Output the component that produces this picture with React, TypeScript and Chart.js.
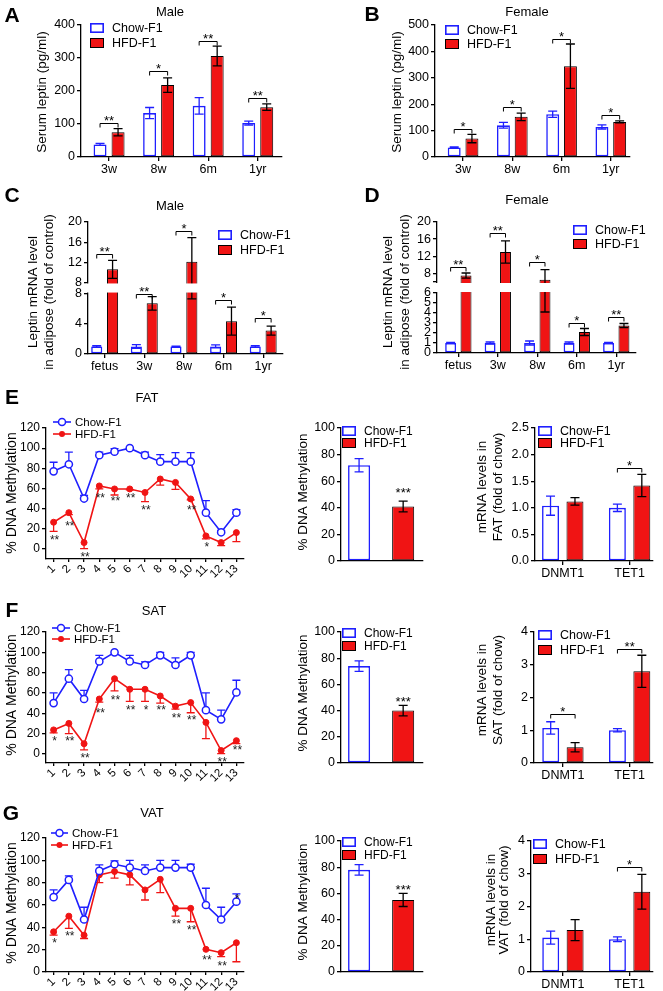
import React, { useEffect, useRef } from 'react';
import { Chart, registerables } from 'chart.js';
Chart.register(...registerables);

// ---------------- DATA ----------------
const seriesNames = ['Chow-F1', 'HFD-F1'];

// A – serum leptin, male
const aCats = ['3w', '8w', '6m', '1yr'];
const aChow = [38, 133, 155, 103];
const aChowErr = [3, 17, 25, 6];
const aHfd = [75, 218, 306, 151];
const aHfdErr = [11, 22, 30, 10];
const aSig = ['**', '*', '**', '**'];
const aSigAt = [103, 261, 352, 179];
const aTicks = [0, 100, 200, 300, 400];

// B – serum leptin, female
const bCats = ['3w', '8w', '6m', '1yr'];
const bChow = [36, 120, 162, 114];
const bChowErr = [2, 11, 12, 8];
const bHfd = [70, 152, 344, 133];
const bHfdErr = [16, 14, 84, 4];
const bSig = ['*', '*', '*', '*'];
const bSigAt = [106, 189, 447, 159];
const bTicks = [0, 100, 200, 300, 400, 500];

// C – leptin mRNA, male (broken axis)
const cCats = ['fetus', '3w', '8w', '6m', '1yr'];
const cChow = [1, 1, 1, 1, 1];
const cChowErr = [0.1, 0.25, 0.05, 0.2, 0.1];
const cHfd = [10.6, 6.7, 12.1, 4.35, 3.1];
const cHfdErr = [1.8, 0.9, 4.8, 1.85, 0.6];
const cSig = ['**', '**', '*', '*', '*'];
const cSigAt = [13.6, 8, 18.2, 7.1, 4.7];
const cLowTicks = [0, 4, 8];
const cHighTicks = [8, 12, 16, 20];

// D – leptin mRNA, female (broken axis)
const dCats = ['fetus', '3w', '8w', '6m', '1yr'];
const dChow = [1, 1, 1, 1, 1];
const dChowErr = [0.05, 0.1, 0.2, 0.1, 0.05];
const dHfd = [7.5, 13, 6.5, 2.1, 2.75];
const dHfdErr = [0.6, 2.6, 2.4, 0.35, 0.2];
const dSig = ['**', '**', '*', '*', '**'];
const dSigAt = [9.5, 17.4, 10.7, 3.0, 3.6];
const dLowTicks = [0, 1, 2, 3, 4, 5, 6];
const dHighTicks = [8, 12, 16, 20];

// E/F/G – CpG site methylation
const sites = ['1', '2', '3', '4', '5', '6', '7', '8', '9', '10', '11', '12', '13'];
const methTicks = [0, 20, 40, 60, 80, 100, 120];

const eChow = [77, 84, 50, 93, 96.5, 100, 93, 86.6, 86.6, 86.6, 36, 16.5, 36];
const eChowErr = [9, 12, 3, 3, 3, 0, 3, 7, 9, 9, 12, 2, 3];
const eHfd = [26.5, 36, 6.3, 62.5, 59.5, 59.5, 56, 69.4, 66, 49.6, 12.9, 6.3, 16.2];
const eHfdErr = [9, 2, 6, 3, 6, 1, 9, 6, 7, 1, 3, 3, 9];
const eStars = ['**', '**', '**', '**', '**', '**', '**', '', '', '**', '*', '', ''];
const eStarAt = [12, 26, -5, 53, 50, 53, 42, 0, 0, 42, 5, 0, 0];

const fChow = [50, 74, 54, 91, 100, 91, 87.5, 97, 87.5, 97, 43, 34, 60.5];
const fChowErr = [10, 9, 8.5, 6, 0, 6, 3, 3, 7, 3, 17, 9, 12];
const fHfd = [23.6, 30, 10, 54, 74, 63.6, 63.6, 57, 47, 50.5, 31, 3.3, 13];
const fHfdErr = [3, 10, 6, 3, 12, 12, 12, 7, 3, 10, 16, 3, 3];
const fStars = ['*', '**', '**', '**', '**', '**', '*', '**', '**', '**', '', '**', '**'];
const fStarAt = [16, 16, -1, 43, 56, 46, 46, 46, 38, 36, 0, -5, 7];

const gChow = [67, 82.5, 47, 90.5, 96.5, 93.5, 90.5, 93.5, 93.5, 93.5, 60, 47, 63];
const gChowErr = [6.5, 3.5, 11, 5.5, 3, 6.5, 5.5, 6.5, 6.5, 3, 15, 11, 7];
const gHfd = [36, 50, 33, 87, 90, 87, 73.5, 83, 57, 57, 20.3, 17.3, 26.2];
const gHfdErr = [3, 11, 3, 7, 6, 9, 9, 12, 7, 12, 0, 3.5, 17];
const gStars = ['*', '**', '', '', '', '', '', '', '**', '**', '**', '**', '*'];
const gStarAt = [29, 35, 0, 0, 0, 0, 0, 0, 46, 40, 13, 8, 68];

// overall % methylation
const pctTicks = [0, 20, 40, 60, 80, 100];
const eMethChow = [72];
const eMethChowErr = [5];
const eMethHfd = [41];
const eMethHfdErr = [4];
const eMethSigAt = 54;
const fMethChow = [74];
const fMethChowErr = [4];
const fMethHfd = [40];
const fMethHfdErr = [4];
const fMethSigAt = 49;
const gMethChow = [78];
const gMethChowErr = [4];
const gMethHfd = [55];
const gMethHfdErr = [5];
const gMethSigAt = 65;
const methSig = '***';

// DNMT1 / TET1 mRNA
const geneCats = ['DNMT1', 'TET1'];
const eGeneTicks = [0, 0.5, 1, 1.5, 2, 2.5];
const eGeneChow = [1.04, 1.0];
const eGeneChowErr = [0.18, 0.07];
const eGeneHfd = [1.12, 1.42];
const eGeneHfdErr = [0.07, 0.21];
const eGeneSig = ['', '*'];
const eGeneSigAt = [0, 1.75];
const fgGeneTicks = [0, 1, 2, 3, 4];
const fGeneChow = [1.07, 1.0];
const fGeneChowErr = [0.19, 0.05];
const fGeneHfd = [0.48, 2.8];
const fGeneHfdErr = [0.14, 0.49];
const fGeneSig = ['*', '**'];
const fGeneSigAt = [1.5, 3.48];
const gGeneChow = [1.05, 1.0];
const gGeneChowErr = [0.2, 0.07];
const gGeneHfd = [1.28, 2.45];
const gGeneHfdErr = [0.32, 0.53];
const gGeneSig = ['', '*'];
const gGeneSigAt = [0, 3.2];

// ---------------- STYLE ----------------
const W = 663;
const H = 991;
const CH = 1030; // canvas height (taller than page so bottom labels are never clipped)
const YW = 40; // y-axis box width
const FONT = '"Liberation Sans", Arial, Helvetica, sans-serif';
const BLUE = '#1f1fff';
const RED = '#f01414';
const BLACK = '#000000';
const AXW = 1.3;

type Tick = { v: number; label: string };
const tk = (vals: number[], fmt?: (v: number) => string): Tick[] =>
  vals.map((v) => ({ v, label: fmt ? fmt(v) : String(v) }));

const SEG = 60;
const GAP = 11;
function brokenMap(lowMax: number, upMin: number, upMax: number) {
  return (v: number) =>
    v <= lowMax ? (v / lowMax) * SEG : SEG + GAP + ((v - upMin) / (upMax - upMin)) * SEG;
}
function brokenTicks(low: number[], high: number[], lowMax: number, upMin: number, upMax: number): Tick[] {
  const m = brokenMap(lowMax, upMin, upMax);
  const out: Tick[] = low.map((v) => ({ v: m(v), label: String(v) }));
  if (!high.includes(upMin)) out.push({ v: SEG + GAP, label: '' });
  high.forEach((v) => out.push({ v: v === upMin ? SEG + GAP : m(v), label: String(v) }));
  return out;
}

function txt(
  ctx: CanvasRenderingContext2D,
  s: string,
  x: number,
  y: number,
  size: number,
  o: { align?: CanvasTextAlign; baseline?: CanvasTextBaseline; rot?: number; color?: string; bold?: boolean } = {}
) {
  ctx.save();
  ctx.translate(x, y);
  if (o.rot) ctx.rotate(o.rot);
  ctx.font = `${o.bold ? 'bold ' : ''}${size}px ${FONT}`;
  ctx.fillStyle = o.color || BLACK;
  ctx.textAlign = o.align || 'center';
  ctx.textBaseline = o.baseline || 'middle';
  ctx.fillText(s, 0, 0);
  ctx.restore();
}

function yAxis(min: number, max: number, ticks: Tick[], fs: number) {
  return {
    type: 'linear',
    position: 'left',
    min,
    max,
    afterFit: (s: any) => {
      s.width = YW;
    },
    afterBuildTicks: (s: any) => {
      s.ticks = ticks.map((t) => ({ value: t.v }));
    },
    ticks: {
      autoSkip: false,
      callback: (_v: any, i: number) => (ticks[i] ? ticks[i].label : ''),
      font: { family: FONT, size: fs },
      color: BLACK,
      padding: 2,
    },
    grid: { display: true, drawOnChartArea: false, drawTicks: true, tickLength: 4, color: BLACK, lineWidth: AXW },
    border: { display: true, color: BLACK, width: AXW },
  };
}

type Series = { vals: number[]; errs: number[]; fill: string; stroke: string; bw: number; err: string };
const chowS = (vals: number[], errs: number[]): Series => ({ vals, errs, fill: '#ffffff', stroke: BLUE, bw: 1.6, err: BLUE });
const hfdS = (vals: number[], errs: number[]): Series => ({ vals, errs, fill: RED, stroke: BLACK, bw: 1, err: BLACK });

type BarCfg = {
  cats: string[];
  series: Series[];
  xs?: number[];
  sig: string[];
  sigAt: number[];
  sigMode: 'bracket' | 'text';
  yMin: number;
  yMax: number;
  ticks: Tick[];
  map?: (v: number) => number;
  gap?: [number, number];
  plot: { l: number; r: number; t: number; b: number };
  xRange: [number, number];
  catPct: number;
  barPct: number;
  legend: { x: number; y: number[]; fs: number };
  ytitle: { lines: string[]; xs: number[]; y: number; fs: number };
  fs: number;
  xLabels: boolean;
};

function barConfig(cfg: BarCfg) {
  const mp = cfg.map || ((v: number) => v);
  const p = cfg.plot;
  const xH = cfg.xLabels ? 24 : 2;
  const plugin = {
    id: 'barExtras',
    afterDatasetsDraw(chart: any) {
      const ctx: CanvasRenderingContext2D = chart.ctx;
      const ys = chart.scales.y;
      const ca = chart.chartArea;
      const py = (v: number) => ys.getPixelForValue(mp(v));
      ctx.save();
      // error bars
      cfg.series.forEach((s, di) => {
        const meta = chart.getDatasetMeta(di);
        s.vals.forEach((v, j) => {
          const e = s.errs[j];
          if (!e) return;
          const x = meta.data[j].x;
          const y1 = py(v + e);
          const y2 = py(Math.max(v - e, 0));
          const cap = 4.5;
          ctx.strokeStyle = s.err;
          ctx.lineWidth = 1.3;
          ctx.beginPath();
          ctx.moveTo(x, y1);
          ctx.lineTo(x, y2);
          ctx.moveTo(x - cap, y1);
          ctx.lineTo(x + cap, y1);
          ctx.moveTo(x - cap, y2);
          ctx.lineTo(x + cap, y2);
          ctx.stroke();
        });
      });
      // axis break
      if (cfg.gap) {
        const yt = ys.getPixelForValue(cfg.gap[1]);
        const yb = ys.getPixelForValue(cfg.gap[0]);
        ctx.fillStyle = '#ffffff';
        ctx.fillRect(ca.left - 1.5, yt + 1, ca.right - ca.left + 3, yb - yt - 2);
      }
      // significance
      const fsS = 13;
      if (cfg.sigMode === 'bracket') {
        cfg.sig.forEach((s, j) => {
          if (!s) return;
          const x1 = chart.getDatasetMeta(0).data[j].x;
          const x2 = chart.getDatasetMeta(1).data[j].x;
          const y = Math.round(py(cfg.sigAt[j])) + 0.5;
          ctx.strokeStyle = BLACK;
          ctx.lineWidth = 1;
          ctx.beginPath();
          ctx.moveTo(x1, y + 4);
          ctx.lineTo(x1, y);
          ctx.lineTo(x2, y);
          ctx.lineTo(x2, y + 4);
          ctx.stroke();
          txt(ctx, s, (x1 + x2) / 2, y + 1.5, fsS, { baseline: 'alphabetic' });
        });
      } else {
        cfg.sig.forEach((s, j) => {
          if (!s) return;
          const x = chart.getDatasetMeta(1).data[j].x;
          txt(ctx, s, x, py(cfg.sigAt[j]) + 0.58 * fsS, fsS, { baseline: 'alphabetic' });
        });
      }
      // legend
      const L = cfg.legend;
      cfg.series.forEach((s, k) => {
        const y = L.y[k];
        const bwid = 14;
        const bh = 10;
        ctx.fillStyle = s.fill;
        ctx.fillRect(L.x, y - bh / 2, bwid, bh);
        ctx.strokeStyle = s.stroke;
        ctx.lineWidth = s.bw;
        ctx.strokeRect(L.x + s.bw / 2, y - bh / 2 + s.bw / 2, bwid - s.bw, bh - s.bw);
        txt(ctx, seriesNames[k], L.x + bwid + 8, y + 0.5, L.fs, { align: 'left' });
      });
      // y title
      const T = cfg.ytitle;
      T.lines.forEach((line, k) => txt(ctx, line, T.xs[k], T.y, T.fs, { rot: -Math.PI / 2 }));
      ctx.restore();
    },
  };
  return {
    type: 'bar',
    data: {
      datasets: cfg.series.map((s, di) => ({
        label: seriesNames[di],
        data: s.vals.map((v, j) => ({ x: cfg.xs ? cfg.xs[di] : j, y: mp(v) })),
        backgroundColor: s.fill,
        borderColor: s.stroke,
        borderWidth: s.bw,
        borderSkipped: false,
        categoryPercentage: cfg.catPct,
        barPercentage: cfg.barPct,
        grouped: !cfg.xs,
      })),
    },
    options: {
      animation: false,
      responsive: false,
      events: [],
      layout: {
        autoPadding: false,
        padding: { left: p.l - YW, top: p.t, right: W - p.r, bottom: CH - p.b - xH },
      },
      plugins: { legend: { display: false }, tooltip: { enabled: false }, title: { display: false } },
      scales: {
        x: {
          type: 'linear',
          min: cfg.xRange[0],
          max: cfg.xRange[1],
          offset: false,
          afterFit: (s: any) => {
            s.height = xH;
          },
          afterBuildTicks: (s: any) => {
            s.ticks = cfg.cats.map((_c, i) => ({ value: i }));
          },
          ticks: {
            display: cfg.xLabels,
            autoSkip: false,
            maxRotation: 0,
            minRotation: 0,
            padding: 1,
            callback: (_v: any, i: number) => cfg.cats[i],
            font: { family: FONT, size: cfg.fs },
            color: BLACK,
          },
          grid: {
            display: cfg.xLabels,
            drawOnChartArea: false,
            drawTicks: true,
            tickLength: 4,
            color: BLACK,
            lineWidth: AXW,
            offset: false,
          },
          border: { display: true, color: BLACK, width: AXW },
        },
        y: yAxis(cfg.yMin, cfg.yMax, cfg.ticks, cfg.fs),
      },
    },
    plugins: [plugin],
  };
}

type LineCfg = {
  chow: number[];
  chowErr: number[];
  hfd: number[];
  hfdErr: number[];
  stars: string[];
  starAt: number[];
  yMin: number;
  plot: { l: number; r: number; t: number; b: number };
  legend: { x1: number; x2: number; y: number[]; fs: number };
  ytitle: { x: number; y: number; fs: number };
};

function lineConfig(cfg: LineCfg) {
  const p = cfg.plot;
  const xH = 28;
  const plugin = {
    id: 'lineExtras',
    beforeDatasetsDraw(chart: any) {
      const ctx: CanvasRenderingContext2D = chart.ctx;
      const ys = chart.scales.y;
      ctx.save();
      const draw = (di: number, vals: number[], errs: number[], dir: number, color: string) => {
        const meta = chart.getDatasetMeta(di);
        vals.forEach((v, j) => {
          const e = errs[j];
          if (!e) return;
          const x = meta.data[j].x;
          const y0 = ys.getPixelForValue(v);
          const y1 = ys.getPixelForValue(v + dir * e);
          ctx.strokeStyle = color;
          ctx.lineWidth = 1.3;
          ctx.beginPath();
          ctx.moveTo(x, y0);
          ctx.lineTo(x, y1);
          ctx.moveTo(x - 4, y1);
          ctx.lineTo(x + 4, y1);
          ctx.stroke();
        });
      };
      draw(0, cfg.chow, cfg.chowErr, 1, BLUE);
      draw(1, cfg.hfd, cfg.hfdErr, -1, RED);
      ctx.restore();
    },
    afterDatasetsDraw(chart: any) {
      const ctx: CanvasRenderingContext2D = chart.ctx;
      const ys = chart.scales.y;
      ctx.save();
      const fsS = 12;
      const meta = chart.getDatasetMeta(1);
      cfg.stars.forEach((s, j) => {
        if (!s) return;
        const x = meta.data[j].x + 1;
        txt(ctx, s, x, ys.getPixelForValue(cfg.starAt[j]) + 0.58 * fsS, fsS, { baseline: 'alphabetic', color: '#222' });
      });
      // legend
      const L = cfg.legend;
      [BLUE, RED].forEach((c, k) => {
        const y = L.y[k];
        ctx.strokeStyle = c;
        ctx.lineWidth = 1.6;
        ctx.beginPath();
        ctx.moveTo(L.x1, y);
        ctx.lineTo(L.x2, y);
        ctx.stroke();
        const cx = (L.x1 + L.x2) / 2;
        ctx.beginPath();
        if (k === 0) {
          ctx.arc(cx, y, 3.5, 0, Math.PI * 2);
          ctx.fillStyle = '#ffffff';
          ctx.fill();
          ctx.lineWidth = 1.5;
          ctx.stroke();
        } else {
          ctx.arc(cx, y, 3, 0, Math.PI * 2);
          ctx.fillStyle = RED;
          ctx.fill();
        }
        txt(ctx, seriesNames[k], L.x2 + 4, y + 0.5, L.fs, { align: 'left' });
      });
      const T = cfg.ytitle;
      txt(ctx, '% DNA Methylation', T.x, T.y, T.fs, { rot: -Math.PI / 2 });
      ctx.restore();
    },
  };
  return {
    type: 'line',
    data: {
      labels: sites,
      datasets: [
        {
          label: seriesNames[0],
          data: cfg.chow,
          borderColor: BLUE,
          borderWidth: 1.6,
          pointRadius: 3.6,
          pointBorderWidth: 1.5,
          pointBackgroundColor: '#ffffff',
          pointBorderColor: BLUE,
          tension: 0,
          fill: false,
        },
        {
          label: seriesNames[1],
          data: cfg.hfd,
          borderColor: RED,
          borderWidth: 1.6,
          pointRadius: 3,
          pointBorderWidth: 1,
          pointBackgroundColor: RED,
          pointBorderColor: RED,
          tension: 0,
          fill: false,
        },
      ],
    },
    options: {
      animation: false,
      responsive: false,
      events: [],
      layout: {
        autoPadding: false,
        padding: { left: p.l - YW, top: p.t, right: W - p.r, bottom: CH - p.b - xH },
      },
      plugins: { legend: { display: false }, tooltip: { enabled: false }, title: { display: false } },
      scales: {
        x: {
          type: 'category',
          offset: true,
          afterFit: (s: any) => {
            s.height = xH;
          },
          ticks: {
            autoSkip: false,
            minRotation: 45,
            maxRotation: 45,
            padding: 0,
            font: { family: FONT, size: 11.5 },
            color: BLACK,
          },
          grid: {
            display: true,
            drawOnChartArea: false,
            drawTicks: true,
            tickLength: 3,
            color: BLACK,
            lineWidth: AXW,
            offset: false,
          },
          border: { display: true, color: BLACK, width: AXW },
        },
        y: yAxis(cfg.yMin, 120, tk(methTicks), 12),
      },
    },
    plugins: [plugin],
  };
}

// ---------------- PANELS ----------------
const C_MAP = brokenMap(8, 8, 20);
const D_MAP = brokenMap(6, 6, 20);

const panels: any[] = [
  barConfig({
    cats: aCats,
    series: [chowS(aChow, aChowErr), hfdS(aHfd, aHfdErr)],
    sig: aSig,
    sigAt: aSigAt,
    sigMode: 'bracket',
    yMin: 0,
    yMax: 400,
    ticks: tk(aTicks),
    plot: { l: 81, r: 282, t: 25, b: 157 },
    xRange: [-0.566, 3.49],
    catPct: 0.727,
    barPct: 0.72,
    legend: { x: 90, y: [28, 43], fs: 12.5 },
    ytitle: { lines: ['Serum leptin (pg/ml)'], xs: [42], y: 92, fs: 13.5 },
    fs: 12.5,
    xLabels: true,
  }),
  barConfig({
    cats: bCats,
    series: [chowS(bChow, bChowErr), hfdS(bHfd, bHfdErr)],
    sig: bSig,
    sigAt: bSigAt,
    sigMode: 'bracket',
    yMin: 0,
    yMax: 500,
    ticks: tk(bTicks),
    plot: { l: 435, r: 630, t: 25, b: 157 },
    xRange: [-0.57, 3.39],
    catPct: 0.72,
    barPct: 0.73,
    legend: { x: 445, y: [30, 44], fs: 12.5 },
    ytitle: { lines: ['Serum leptin (pg/ml)'], xs: [397], y: 92, fs: 13.5 },
    fs: 12.5,
    xLabels: true,
  }),
  barConfig({
    cats: cCats,
    series: [chowS(cChow, cChowErr), hfdS(cHfd, cHfdErr)],
    sig: cSig,
    sigAt: cSigAt,
    sigMode: 'bracket',
    yMin: 0,
    yMax: 2 * SEG + GAP,
    ticks: brokenTicks(cLowTicks, cHighTicks, 8, 8, 20),
    map: C_MAP,
    gap: [SEG, SEG + GAP],
    plot: { l: 88, r: 283, t: 222, b: 354 },
    xRange: [-0.42, 4.5],
    catPct: 0.8,
    barPct: 0.7,
    legend: { x: 218, y: [235, 250], fs: 12.5 },
    ytitle: { lines: ['Leptin mRNA level', 'in adipose (fold of control)'], xs: [33, 49], y: 292, fs: 13.5 },
    fs: 12.5,
    xLabels: true,
  }),
  barConfig({
    cats: dCats,
    series: [chowS(dChow, dChowErr), hfdS(dHfd, dHfdErr)],
    sig: dSig,
    sigAt: dSigAt,
    sigMode: 'bracket',
    yMin: 0,
    yMax: 2 * SEG + GAP,
    ticks: brokenTicks(dLowTicks, dHighTicks, 6, 6, 20),
    map: D_MAP,
    gap: [SEG, SEG + GAP],
    plot: { l: 437, r: 636, t: 222, b: 353 },
    xRange: [-0.54, 4.5],
    catPct: 0.78,
    barPct: 0.71,
    legend: { x: 573, y: [230, 244], fs: 12.5 },
    ytitle: { lines: ['Leptin mRNA level', 'in adipose (fold of control)'], xs: [388, 405], y: 292, fs: 13.5 },
    fs: 12.5,
    xLabels: true,
  }),
  lineConfig({
    chow: eChow,
    chowErr: eChowErr,
    hfd: eHfd,
    hfdErr: eHfdErr,
    stars: eStars,
    starAt: eStarAt,
    yMin: -10,
    plot: { l: 46, r: 244, t: 428, b: 559 },
    legend: { x1: 53, x2: 71, y: [422, 434], fs: 11.5 },
    ytitle: { x: 12, y: 493, fs: 14 },
  }),
  lineConfig({
    chow: fChow,
    chowErr: fChowErr,
    hfd: fHfd,
    hfdErr: fHfdErr,
    stars: fStars,
    starAt: fStarAt,
    yMin: -9,
    plot: { l: 46, r: 244, t: 632, b: 763 },
    legend: { x1: 52, x2: 70, y: [628, 639], fs: 11.5 },
    ytitle: { x: 12, y: 695, fs: 14 },
  }),
  lineConfig({
    chow: gChow,
    chowErr: gChowErr,
    hfd: gHfd,
    hfdErr: gHfdErr,
    stars: gStars,
    starAt: gStarAt,
    yMin: 0,
    plot: { l: 46, r: 244, t: 838, b: 972 },
    legend: { x1: 51, x2: 68, y: [833, 845], fs: 11.5 },
    ytitle: { x: 12, y: 903, fs: 14 },
  }),
];

const midSpecs = [
  { chow: eMethChow, chowErr: eMethChowErr, hfd: eMethHfd, hfdErr: eMethHfdErr, sigAt: eMethSigAt, t: 428, b: 561, ly: [431, 443], ty: 492 },
  { chow: fMethChow, chowErr: fMethChowErr, hfd: fMethHfd, hfdErr: fMethHfdErr, sigAt: fMethSigAt, t: 632, b: 763, ly: [633, 646], ty: 693 },
  { chow: gMethChow, chowErr: gMethChowErr, hfd: gMethHfd, hfdErr: gMethHfdErr, sigAt: gMethSigAt, t: 841, b: 972, ly: [842, 855], ty: 902 },
];
midSpecs.forEach((m) =>
  panels.push(
    barConfig({
      cats: ['', ''],
      series: [chowS(m.chow, m.chowErr), hfdS(m.hfd, m.hfdErr)],
      xs: [0, 1],
      sig: [methSig],
      sigAt: [m.sigAt],
      sigMode: 'text',
      yMin: 0,
      yMax: 100,
      ticks: tk(pctTicks),
      plot: { l: 341, r: 423, t: m.t, b: m.b },
      xRange: [-0.41, 1.45],
      catPct: 1,
      barPct: 0.5,
      legend: { x: 342, y: m.ly, fs: 12 },
      ytitle: { lines: ['% DNA Methylation'], xs: [303], y: m.ty, fs: 13.5 },
      fs: 12.5,
      xLabels: false,
    })
  )
);

const geneSpecs = [
  {
    chow: eGeneChow, chowErr: eGeneChowErr, hfd: eGeneHfd, hfdErr: eGeneHfdErr, sig: eGeneSig, sigAt: eGeneSigAt,
    yMax: 2.5, ticks: tk(eGeneTicks, (v) => v.toFixed(1)), l: 535, t: 428, b: 561, x0: -0.415,
    lx: 538, ly: [431, 443], tl: 'FAT (fold of chow)', txs: [482, 498], ty: 487,
  },
  {
    chow: fGeneChow, chowErr: fGeneChowErr, hfd: fGeneHfd, hfdErr: fGeneHfdErr, sig: fGeneSig, sigAt: fGeneSigAt,
    yMax: 4, ticks: tk(fgGeneTicks), l: 534, t: 632, b: 763, x0: -0.433,
    lx: 538, ly: [635, 650], tl: 'SAT (fold of chow)', txs: [482, 498], ty: 690,
  },
  {
    chow: gGeneChow, chowErr: gGeneChowErr, hfd: gGeneHfd, hfdErr: gGeneHfdErr, sig: gGeneSig, sigAt: gGeneSigAt,
    yMax: 4, ticks: tk(fgGeneTicks), l: 531, t: 841, b: 972, x0: -0.478,
    lx: 533, ly: [844, 859], tl: 'VAT (fold of chow)', txs: [491, 504], ty: 900,
  },
];
geneSpecs.forEach((g) =>
  panels.push(
    barConfig({
      cats: geneCats,
      series: [chowS(g.chow, g.chowErr), hfdS(g.hfd, g.hfdErr)],
      sig: g.sig,
      sigAt: g.sigAt,
      sigMode: 'bracket',
      yMin: 0,
      yMax: g.yMax,
      ticks: g.ticks,
      plot: { l: g.l, r: 653, t: g.t, b: g.b },
      xRange: [g.x0, 1.35],
      catPct: 0.731,
      barPct: 0.694,
      legend: { x: g.lx, y: g.ly, fs: 12.5 },
      ytitle: { lines: ['mRNA levels in', g.tl], xs: g.txs, y: g.ty, fs: 13.5 },
      fs: 12.5,
      xLabels: true,
    })
  )
);

const letters: [string, number, number][] = [
  ['A', 12, 14],
  ['B', 372, 13],
  ['C', 12, 194],
  ['D', 372, 194],
  ['E', 12, 396],
  ['F', 12, 609],
  ['G', 11, 812],
];
const titles: [string, number, number][] = [
  ['Male', 170, 11],
  ['Female', 527, 11],
  ['Male', 170, 205],
  ['Female', 527, 199],
  ['FAT', 147, 397],
  ['SAT', 154, 610],
  ['VAT', 152, 812],
];

function Layer({ config }: { config: any }) {
  const ref = useRef<HTMLCanvasElement>(null);
  useEffect(() => {
    const chart = new Chart(ref.current as HTMLCanvasElement, config);
    return () => chart.destroy();
  }, [config]);
  return (
    <canvas
      ref={ref}
      width={W}
      height={CH}
      style={{ position: 'absolute', left: 0, top: 0, width: W, height: CH }}
    />
  );
}

export default function App() {
  return (
    <div style={{ position: 'absolute', left: 0, top: 0, width: W, height: H, background: '#fff', overflow: 'hidden' }}>
      {panels.map((c, i) => (
        <Layer key={i} config={c} />
      ))}
      {letters.map(([s, x, y]) => (
        <div
          key={s}
          style={{
            position: 'absolute', left: x, top: y, transform: 'translate(-50%,-50%)',
            font: `bold 21px ${FONT}`, lineHeight: 1, color: '#000', whiteSpace: 'nowrap',
          }}
        >
          {s}
        </div>
      ))}
      {titles.map(([s, x, y], i) => (
        <div
          key={i}
          style={{
            position: 'absolute', left: x, top: y, transform: 'translate(-50%,-50%)',
            font: `13px ${FONT}`, lineHeight: 1, color: '#000', whiteSpace: 'nowrap',
          }}
        >
          {s}
        </div>
      ))}
    </div>
  );
}
